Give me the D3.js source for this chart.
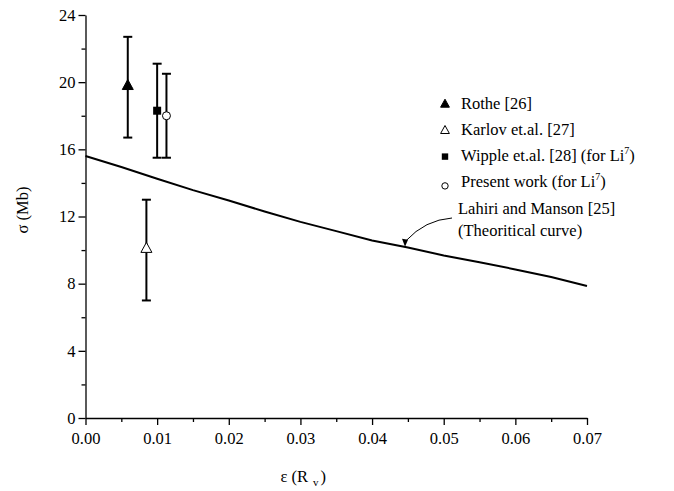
<!DOCTYPE html>
<html lang="en">
<head>
  <meta charset="UTF-8">
  <title>Cross section vs energy</title>
  <script src="https://d3js.org/d3.v7.min.js"></script>
  <style>
    body { margin: 0; background: #fff; }
    svg { display: block; }
    .axis path, .axis line { stroke: #000; stroke-width: 1.3; }
  </style>
</head>
<body>
  <svg width="674" height="491"></svg>

  <script>
    // theoretical curve (Lahiri and Manson)
    const curveX = [0, 0.005, 0.01, 0.015, 0.02, 0.025, 0.03, 0.035, 0.04, 0.045, 0.05, 0.055, 0.06, 0.065, 0.07];
    const curveY = [15.6, 14.95, 14.25, 13.57, 12.95, 12.3, 11.68, 11.13, 10.57, 10.15, 9.68, 9.27, 8.85, 8.4, 7.86];

    // experimental points
    const seriesNames = ["Rothe [26]", "Karlov et.al. [27]", "Wipple et.al. [28] (for Li", "Present work (for Li"];
    const seriesSymbols = ["triUp", "triOpen", "square", "circle"];
    const pointX = [0.0059, 0.0085, 0.0100, 0.0113];
    const pointY = [19.8, 10.1, 18.3, 18.0];
    const errLow = [16.7, 7.0, 15.5, 15.5];
    const errHigh = [22.7, 13.0, 21.1, 20.5];

    const xTicks = [0, 0.01, 0.02, 0.03, 0.04, 0.05, 0.06, 0.07];
    const yTicks = [0, 4, 8, 12, 16, 20, 24];

    const FONT = "'Liberation Serif', 'Times New Roman', Times, serif";

    const svg = d3.select("svg")
      .attr("font-family", FONT);
    const x = d3.scaleLinear().domain([0, 0.07]).range([85.5, 587]);
    const y = d3.scaleLinear().domain([0, 24]).range([418, 15]);

    // minor ticks
    const xMinor = d3.range(0.005, 0.07, 0.01);
    const yMinor = d3.range(2, 24, 4);
    svg.append("g").attr("class", "axis").attr("transform", "translate(0,418)")
      .call(d3.axisBottom(x).tickValues(xMinor).tickSize(4).tickSizeOuter(0).tickFormat(""))
      .select(".domain").remove();
    svg.append("g").attr("class", "axis").attr("transform", "translate(85.5,0)")
      .call(d3.axisLeft(y).tickValues(yMinor).tickSize(4).tickSizeOuter(0).tickFormat(""))
      .select(".domain").remove();

    const gx = svg.append("g").attr("class", "axis").attr("transform", "translate(0,418)")
      .call(d3.axisBottom(x).tickValues(xTicks).tickSize(7).tickSizeOuter(0).tickPadding(7).tickFormat(d3.format(".2f")));
    const gy = svg.append("g").attr("class", "axis").attr("transform", "translate(85.5,0)")
      .call(d3.axisLeft(y).tickValues(yTicks).tickSize(7).tickSizeOuter(0).tickPadding(3));
    [gx, gy].forEach(g => g.attr("font-family", FONT).attr("font-size", 16.5)
      .selectAll("text").attr("fill", "#000"));

    // axis titles
    svg.append("text")
      .attr("transform", "translate(28,210) rotate(-90)")
      .attr("text-anchor", "middle")
      .attr("font-size", 16.5)
      .text("σ (Mb)");

    const xt = svg.append("text").attr("x", 280.5).attr("y", 482)
      .attr("font-size", 16.5);
    xt.append("tspan").text("ε (R");
    xt.append("tspan").attr("dx", 5).attr("dy", 4).attr("font-size", 11).text("v");
    xt.append("tspan").attr("dx", 2).attr("dy", -4).text(")");

    // theoretical curve
    const line = d3.line().x((d, i) => x(curveX[i])).y(d => y(d));
    svg.append("path").datum(curveY)
      .attr("fill", "none").attr("stroke", "#000").attr("stroke-width", 2)
      .attr("d", line);

    // symbols
    function drawSymbol(g, type, cx, cy, s) {
      if (type === "triUp" || type === "triOpen") {
        g.append("path")
          .attr("d", `M${cx},${cy - 6 * s}L${cx + 5.5 * s},${cy + 4 * s}L${cx - 5.5 * s},${cy + 4 * s}Z`)
          .attr("fill", type === "triUp" ? "#000" : "#fff")
          .attr("stroke", "#000").attr("stroke-width", 1);
      } else if (type === "square") {
        g.append("rect").attr("x", cx - 4 * s).attr("y", cy - 4 * s)
          .attr("width", 8 * s).attr("height", 8 * s)
          .attr("fill", "#000");
      } else {
        g.append("circle").attr("cx", cx).attr("cy", cy).attr("r", 4 * s)
          .attr("fill", "#fff").attr("stroke", "#000").attr("stroke-width", 1);
      }
    }

    // error bars + markers
    const pts = svg.append("g");
    pointX.forEach((px, i) => {
      const cx = x(px);
      pts.append("line").attr("x1", cx).attr("x2", cx)
        .attr("y1", y(errLow[i])).attr("y2", y(errHigh[i]))
        .attr("stroke", "#000").attr("stroke-width", 2);
      [errLow[i], errHigh[i]].forEach(v => {
        pts.append("line").attr("x1", cx - 4.5).attr("x2", cx + 4.5)
          .attr("y1", y(v)).attr("y2", y(v))
          .attr("stroke", "#000").attr("stroke-width", 2);
      });
      drawSymbol(pts, seriesSymbols[i], cx, y(pointY[i]), 1);
    });

    // legend
    const lg = svg.append("g");
    seriesNames.forEach((name, i) => {
      const cy = 103 + i * 26.3;
      drawSymbol(lg, seriesSymbols[i], 445, cy + (i === 3 ? 4 : 1), 0.8);
      const t = lg.append("text").attr("x", 461).attr("y", cy + 5.5).attr("font-size", 16.5);
      t.append("tspan").text(name);
      if (i >= 2) {
        t.append("tspan").attr("dy", -7).attr("font-size", 10).text("7");
        t.append("tspan").attr("dy", 7).text(")");
      }
    });

    // annotation for theoretical curve
    svg.append("text").attr("x", 458).attr("y", 213.5).attr("font-size", 16.5)
      .text("Lahiri and Manson [25]");
    svg.append("text").attr("x", 458).attr("y", 235.5).attr("font-size", 16.5)
      .text("(Theoritical curve)");
    const ax = x(0.0446), ay = y(10.2);
    svg.append("path")
      .attr("d", `M452,218 Q425,220 ${ax + 1},${ay - 6}`)
      .attr("fill", "none").attr("stroke", "#000").attr("stroke-width", 1);
    svg.append("path")
      .attr("d", `M${ax - 3},${ay - 8}L${ax + 3},${ay - 7}L${ax},${ay}Z`)
      .attr("fill", "#000");
  </script>
</body>
</html>
